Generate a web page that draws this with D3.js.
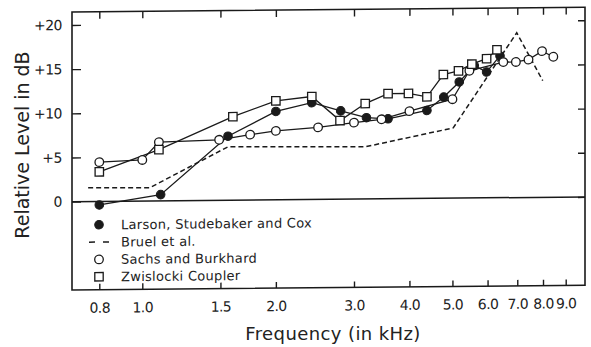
<!DOCTYPE html>
<html>
<head>
<meta charset="utf-8">
<script src="https://cdn.jsdelivr.net/npm/d3@7.9.0/dist/d3.min.js"></script>
<style>
  html, body { margin: 0; padding: 0; background: #fff; }
  svg { display: block; }
  text { font-family: "DejaVu Sans", sans-serif; fill: #222; }
</style>
</head>
<body>
<div id="chart"></div>
<script>
// frequencies in kHz, levels in dB
const larsonFreq = [0.8, 1.1, 1.56, 2.0, 2.41, 2.8, 3.2, 3.58, 4.38, 4.78, 5.18, 5.6, 5.97, 6.4];
const larsonDb   = [-0.4, 0.7, 7.25, 10.0, 10.95, 10.0, 9.2, 9.05, 9.95, 11.45, 13.15, 14.98, 14.25, 16.05];

const bruelFreq = [0.755, 1.04, 1.56, 3.18, 5.02, 6.98, 7.99];
const bruelDb   = [1.55, 1.5, 6.05, 5.9, 7.95, 18.65, 13.2];

const sachsFreq = [0.8, 1.0, 1.09, 1.49, 1.75, 2.0, 2.49, 3.0, 3.46, 4.0, 5.0, 5.46, 6.51, 6.95, 7.42, 7.96, 8.44];
const sachsDb   = [4.45, 4.65, 6.65, 6.85, 7.4, 7.8, 8.15, 8.65, 9.0, 9.9, 11.2, 14.4, 15.35, 15.35, 15.6, 16.55, 15.9];

const zwisFreq = [0.8, 1.09, 1.6, 2.0, 2.41, 2.79, 3.18, 3.58, 3.98, 4.38, 4.77, 5.16, 5.53, 5.97, 6.3];
const zwisDb   = [3.35, 5.8, 9.45, 11.2, 11.65, 8.9, 10.8, 11.9, 11.9, 11.5, 14.0, 14.4, 15.15, 15.75, 16.75];

const xTicks = [0.8, 1.0, 1.5, 2.0, 3.0, 4.0, 5.0, 6.0, 7.0, 8.0, 9.0];
const yTicks = [0, 5, 10, 15, 20];

const legendLabels = ['Larson, Studebaker and Cox', 'Bruel et al.', 'Sachs and Burkhard', 'Zwislocki Coupler'];

const width = 591;
const height = 347;
const frame = { left: 72, right: 585, top: 12, bottom: 290 };

const zip = (fs, vs) => fs.map((f, i) => ({ f, v: vs[i] }));

const series = [
  { name: legendLabels[0], data: zip(larsonFreq, larsonDb), marker: 'filled', dash: null },
  { name: legendLabels[1], data: zip(bruelFreq, bruelDb), marker: null, dash: '5,3' },
  { name: legendLabels[2], data: zip(sachsFreq, sachsDb), marker: 'open', dash: null },
  { name: legendLabels[3], data: zip(zwisFreq, zwisDb), marker: 'square', dash: null },
];

const svg = d3.select('#chart')
  .append('svg')
  .attr('width', width)
  .attr('height', height);

const xScale = d3.scaleLog().domain([0.8, 9]).range([99.3, 565.7]);
const yScale = d3.scaleLinear().domain([-10, 20]).range([290, 25]);

// the scanned figure is a little tilted: right side sits higher
const g = svg.append('g')
  .attr('transform', `translate(${frame.left},${yScale(0)}) skewY(-0.53) translate(${-frame.left},${-yScale(0)})`);

// frame
g.append('rect')
  .attr('x', frame.left)
  .attr('y', frame.top)
  .attr('width', frame.right - frame.left)
  .attr('height', frame.bottom - frame.top)
  .attr('fill', 'none')
  .attr('stroke', '#1a1a1a')
  .attr('stroke-width', 1.6);

// zero line
g.append('line')
  .attr('x1', frame.left).attr('x2', frame.right)
  .attr('y1', yScale(0)).attr('y2', yScale(0))
  .attr('stroke', '#1a1a1a')
  .attr('stroke-width', 1.5);

function styleAxis(sel) {
  sel.select('.domain').remove();
  sel.selectAll('line').attr('stroke', '#1a1a1a').attr('stroke-width', 1.4);
  sel.selectAll('text').attr('fill', '#222');
}

// bottom axis with labels
g.append('g')
  .attr('transform', `translate(0,${frame.bottom})`)
  .call(d3.axisBottom(xScale).tickValues(xTicks).tickFormat(d3.format('.1f'))
    .tickSizeInner(-6).tickSizeOuter(0).tickPadding(13))
  .call(styleAxis)
  .selectAll('text')
  .style('font-size', '14px')
  .style('font-family', '"DejaVu Sans", sans-serif')
  .style('letter-spacing', '-0.6px');

// top axis, ticks only
g.append('g')
  .attr('transform', `translate(0,${frame.top})`)
  .call(d3.axisTop(xScale).tickValues(xTicks).tickFormat('').tickSizeInner(-7).tickSizeOuter(0))
  .call(styleAxis);

// left axis with labels
g.append('g')
  .attr('transform', `translate(${frame.left},0)`)
  .call(d3.axisLeft(yScale).tickValues(yTicks).tickFormat(d => d === 0 ? '0' : '+' + d)
    .tickSizeInner(-9).tickSizeOuter(0).tickPadding(10))
  .call(styleAxis)
  .selectAll('text')
  .style('font-size', '14px')
  .style('font-family', '"DejaVu Sans", sans-serif')
  .style('letter-spacing', '-0.5px');

// right axis, ticks only
g.append('g')
  .attr('transform', `translate(${frame.right},0)`)
  .call(d3.axisRight(yScale).tickValues(yTicks).tickFormat('').tickSizeInner(-7).tickSizeOuter(0))
  .call(styleAxis);

// lines
const line = d3.line().x(d => xScale(d.f)).y(d => yScale(d.v));

g.append('g').selectAll('path')
  .data(series)
  .join('path')
  .attr('d', d => line(d.data))
  .attr('fill', 'none')
  .attr('stroke', '#1a1a1a')
  .attr('stroke-width', d => d.dash ? 1.5 : 1.3)
  .attr('stroke-dasharray', d => d.dash);

// markers
const r = 4.3;
const side = 8.4;

function drawMarker(sel, type) {
  if (type === 'square') {
    sel.append('rect')
      .attr('x', -side / 2).attr('y', -side / 2)
      .attr('width', side).attr('height', side)
      .attr('fill', '#fff').attr('stroke', '#1a1a1a').attr('stroke-width', 1.3);
  } else if (type === 'filled') {
    sel.append('circle').attr('r', r)
      .attr('fill', '#1a1a1a').attr('stroke', '#1a1a1a').attr('stroke-width', 1);
  } else if (type === 'open') {
    sel.append('circle').attr('r', r)
      .attr('fill', '#fff').attr('stroke', '#1a1a1a').attr('stroke-width', 1.3);
  }
}

series.filter(s => s.marker).forEach(s => {
  g.append('g')
    .selectAll('g')
    .data(s.data)
    .join('g')
    .attr('transform', d => `translate(${xScale(d.f)},${yScale(d.v)})`)
    .each(function () { drawMarker(d3.select(this), s.marker); });
});

// legend
const legendY = d3.scalePoint().domain(legendLabels).range([225, 277]);
const legend = g.append('g');

series.forEach(s => {
  const row = legend.append('g')
    .attr('transform', `translate(99,${legendY(s.name)})`);
  if (s.marker) {
    drawMarker(row, s.marker);
  } else {
    row.append('line')
      .attr('x1', -10).attr('x2', 10)
      .attr('stroke', '#1a1a1a')
      .attr('stroke-width', 1.5)
      .attr('stroke-dasharray', '6,8');
  }
  row.append('text')
    .attr('x', 22)
    .attr('y', 4.6)
    .style('font-size', '13px')
    .style('letter-spacing', '0.3px')
    .text(s.name);
});

// axis titles
svg.append('text')
  .attr('x', 333)
  .attr('y', 340)
  .attr('text-anchor', 'middle')
  .style('font-size', '18px')
  .style('letter-spacing', '0.4px')
  .text('Frequency (in kHz)');

svg.append('text')
  .attr('transform', 'translate(29,145) rotate(-90)')
  .attr('text-anchor', 'middle')
  .style('font-size', '19px')
  .text('Relative Level in dB');
</script>
</body>
</html>
